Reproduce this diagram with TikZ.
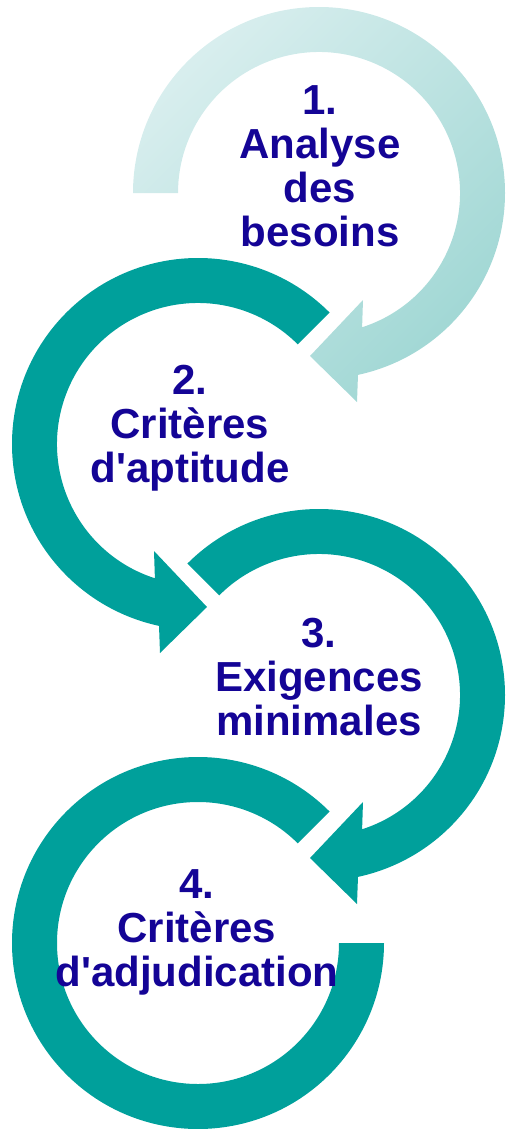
\documentclass[tikz,border=0pt]{standalone}
\usepackage{fontspec}
\setmainfont{Liberation Sans}
\definecolor{tealband}{RGB}{0,160,155}
\definecolor{lightA}{RGB}{216,238,238}
\definecolor{lightB}{RGB}{160,215,212}
\definecolor{txtblue}{RGB}{20,4,150}
\tikzset{
  steptext/.style={text=txtblue, font=\fontsize{42}{44}\selectfont\bfseries, align=center, inner sep=0pt},
  darkband/.style={fill=tealband},
  lightband/.style={top color=lightA, bottom color=lightB, shading angle=45},
}
\begin{document}
\begin{tikzpicture}[x=1pt,y=1pt]
\useasboundingbox (0,0) rectangle (506,-1129);
\coordinate (c1) at (319,-193);
\coordinate (c2) at (198,-444);
\coordinate (c3) at (319,-695);
\coordinate (c4) at (198,-943);

% arrow 1 (clockwise, light)
\shade[lightband] ([shift={(180:186)}]c1) arc[start angle=180,end angle=-77.9,radius=186]
  -- ([shift={(38,-209)}]c1) -- ([shift={(-9,-163)}]c1) -- ([shift={(44,-107)}]c1)
  -- ([shift={(-72.2:141)}]c1) arc[start angle=-72.2,end angle=180,radius=141] -- cycle;

% arrow 2 (counter-clockwise)
\fill[darkband] ([shift={(45:186)}]c2) arc[start angle=45,end angle=257.9,radius=186]
  -- ([shift={(-38,-209)}]c2) -- ([shift={(9,-163)}]c2) -- ([shift={(-44,-107)}]c2)
  -- ([shift={(252.2:141)}]c2) arc[start angle=252.2,end angle=45,radius=141] -- cycle;

% arrow 3 (clockwise)
\fill[darkband] ([shift={(135:186)}]c3) arc[start angle=135,end angle=-77.9,radius=186]
  -- ([shift={(38,-209)}]c3) -- ([shift={(-9,-163)}]c3) -- ([shift={(44,-107)}]c3)
  -- ([shift={(-72.2:141)}]c3) arc[start angle=-72.2,end angle=135,radius=141] -- cycle;

% arc 4 (counter-clockwise, no head)
\fill[darkband] ([shift={(45:186)}]c4) arc[start angle=45,end angle=360,radius=186]
  -- ([shift={(360:141)}]c4) arc[start angle=360,end angle=45,radius=141] -- cycle;

\node[steptext] (t1) at (320,-166) {1.\\Analyse\\des\\besoins};
\node[steptext] (t2) at (190,-428) {2.\\Critères\\d\textquotesingle aptitude};
\node[steptext] (t3) at (319,-677) {3.\\Exigences\\minimales};
\node[steptext] (t4) at (197,-932) {4.\\Critères\\d\textquotesingle adjudication};
\end{tikzpicture}
\end{document}
